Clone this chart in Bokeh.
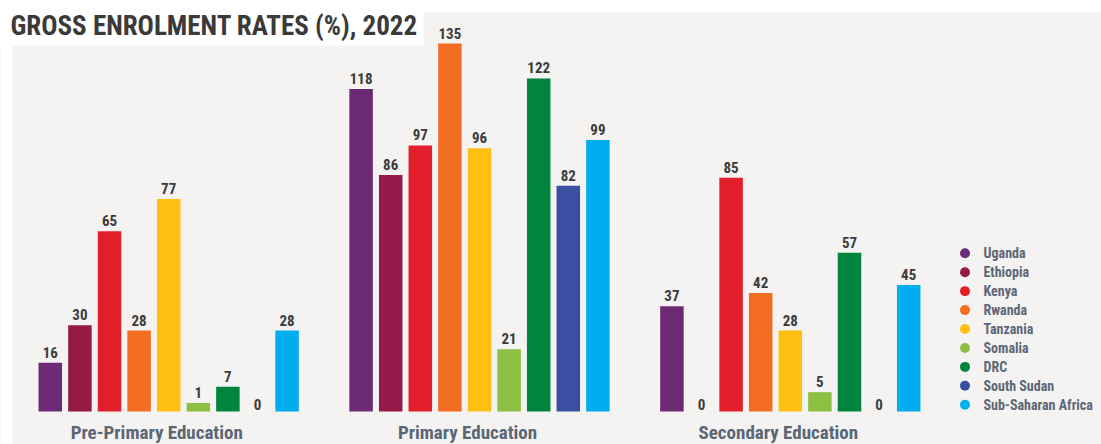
from bokeh.plotting import figure
from bokeh.models import Range1d, BoxAnnotation, Label
from bokeh.core.properties import value
from bokeh.embed import file_html
from bokeh.resources import INLINE

# ---------------- data ----------------
title = "GROSS ENROLMENT RATES (%), 2022"
levels = ["Pre-Primary Education", "Primary Education", "Secondary Education"]
countries = ["Uganda", "Ethiopia", "Kenya", "Rwanda", "Tanzania", "Somalia",
             "DRC", "South Sudan", "Sub-Saharan Africa"]
colors = ["#6b2a73", "#951a47", "#e31f2b", "#f36e22", "#fdbf12", "#8bc043",
          "#00843e", "#3a4f9f", "#00adee"]
pre_primary = [16, 30, 65, 28, 77, 1, 7, 0, 28]
primary = [118, 86, 97, 135, 96, 21, 122, 82, 99]
secondary = [37, 0, 85, 42, 28, 5, 57, 0, 45]
series = [pre_primary, primary, secondary]

# ---------------- layout helpers ----------------
W, H = 1101, 444
PX = 2.682          # pixels per percentage point
ZERO_Y = 405.1      # page y of value 0


def v(page_y):
    return (ZERO_Y - page_y) / PX


FAMILY = "'Roboto Condensed', 'Liberation Sans Narrow', 'Arial Narrow', Roboto, sans-serif"
FONT = value(FAMILY)
BG = "#f4f3f1"
BASE = v(411)
STEP = 29.6
GROUP = 310.8
FIRST = 49.8
BAR_W = 23.5

p = figure(width=W, height=H, output_backend="svg", toolbar_location=None,
           x_range=Range1d(0, W), y_range=Range1d(v(H), v(0)),
           min_border=0, outline_line_color=None,
           background_fill_color=BG, border_fill_color="white")
p.axis.visible = False
p.grid.visible = False

bx, btop, bcol, lx, ly, ltxt = [], [], [], [], [], []
for g, vals in enumerate(series):
    for i, val in enumerate(vals):
        x = FIRST + g * GROUP + i * STEP
        if val > 0:
            bx.append(x)
            btop.append(val)
            bcol.append(colors[i])
            ly.append(val + 10.5 / PX)
        else:
            ly.append(v(403.5))
        lx.append(x)
        ltxt.append(str(val))

p.vbar(x=bx, top=btop, bottom=BASE, width=BAR_W, fill_color=bcol, line_color=None)
p.text(x=lx, y=ly, text=ltxt, text_font=FONT, text_font_style="bold",
       text_font_size="15px", text_color="#3b3b3b", text_align="center",
       text_baseline="middle")

# category labels
cx = [FIRST + g * GROUP + 4 * STEP - 12 for g in range(len(levels))]
p.text(x=cx, y=[v(432)] * len(levels), text=levels, text_font=FONT,
       text_font_style="bold", text_font_size="19px", text_color="#5b6676",
       text_align="center", text_baseline="middle")

# legend
leg_y = [v(252.8 + k * 18.93) for k in range(len(countries))]
p.scatter(x=[964.5] * len(countries), y=leg_y, marker="circle", size=10,
          fill_color=colors, line_color=None)
p.text(x=[983] * len(countries), y=leg_y, text=countries, text_font=FONT,
       text_font_style="bold", text_font_size="14px", text_color="#5d6777",
       text_align="left", text_baseline="middle")

# white page areas and title
p.add_layout(BoxAnnotation(bottom=v(12), fill_color="white", fill_alpha=1, line_color=None))
p.add_layout(BoxAnnotation(right=12, fill_color="white", fill_alpha=1, line_color=None))
p.add_layout(BoxAnnotation(right=423, bottom=v(45), fill_color="white", fill_alpha=1, line_color=None))
p.add_layout(Label(x=10, y=v(25.5), text=title, text_font=FAMILY,
                   text_font_style="bold", text_font_size="27px", text_color="#3a3a3a",
                   text_baseline="middle"))

open("out.html", "w").write(file_html(p, INLINE))
